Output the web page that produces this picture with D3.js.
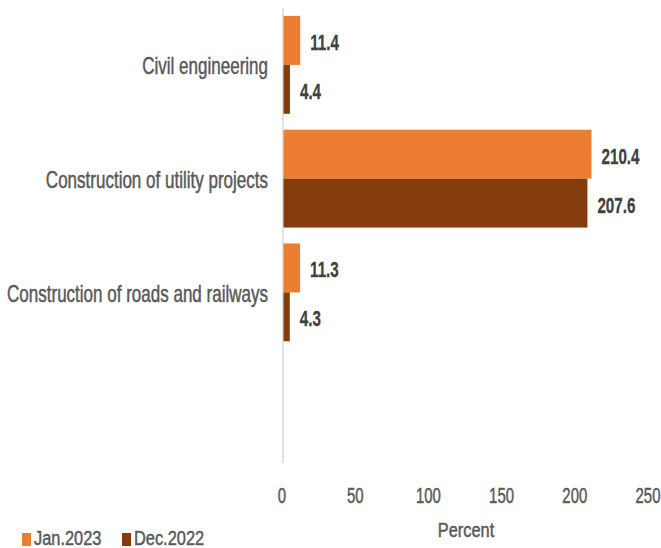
<!DOCTYPE html>
<html>
<head>
<meta charset="utf-8">
<script src="https://cdn.jsdelivr.net/npm/d3@7"></script>
<style>
  body { margin: 0; background: #fff; }
  text { font-family: "Liberation Sans", Arial, sans-serif; }
</style>
</head>
<body>
<div id="chart"></div>
<script>
// данные графика
let categories = ["Civil engineering", "Construction of utility projects", "Construction of roads and railways", " "];
let seriesNames = ["Jan.2023", "Dec.2022"];
let jan2023 = [11.4, 210.4, 11.3, null];
let dec2022 = [4.4, 207.6, 4.3, null];
let xTicks = [0, 50, 100, 150, 200, 250];
let colors = ["#ED7D31", "#843C0C"];

let width = 661, height = 548;

let svg = d3.select('#chart').append('svg')
    .attr('width', width).attr('height', height);

// шкалы
let x = d3.scaleLinear().domain([0, 250]).range([283.5, 649.5]);
let y = d3.scaleBand().domain(categories).range([8, 463])
    .paddingInner(0.14).paddingOuter(0.07);
let ySub = d3.scaleBand().domain(seriesNames).range([0, y.bandwidth()]);

let rows = categories.map((c, i) => ({ cat: c, values: [jan2023[i], dec2022[i]] }));

// сжатый по горизонтали текст
function squeezed(parent, px, py, str, opts) {
    let fill = opts.fill || '#595959';
    return parent.append('text')
        .attr('transform', `translate(${px},${py}) scale(${opts.sx},1)`)
        .attr('text-anchor', opts.anchor || 'start')
        .style('font-size', opts.size + 'px')
        .style('font-weight', opts.weight || 'normal')
        .style('fill', fill)
        .style('stroke', fill)
        .style('stroke-width', opts.weight === 'bold' ? 0.3 : 0.5)
        .text(str);
}

// вертикальная линия оси
svg.append('line')
    .attr('x1', 283).attr('x2', 283)
    .attr('y1', 8).attr('y2', 463)
    .attr('stroke', '#d9d9d9').attr('stroke-width', 1.5);

// столбики
let groups = svg.selectAll('.grp')
    .data(rows)
    .enter()
    .append('g')
    .attr('class', 'grp')
    .attr('transform', d => `translate(0,${y(d.cat)})`);

groups.selectAll('rect')
    .data(d => d.values.map((v, k) => ({ v: v, k: k })).filter(e => e.v !== null))
    .enter()
    .append('rect')
    .attr('x', x(0))
    .attr('y', e => ySub(seriesNames[e.k]))
    .attr('width', e => x(e.v) - x(0))
    .attr('height', ySub.bandwidth())
    .attr('fill', e => colors[e.k]);

// подписи значений
groups.each(function(d) {
    let g = d3.select(this);
    d.values.forEach((v, k) => {
        if (v === null) return;
        let cy = ySub(seriesNames[k]) + ySub.bandwidth() / 2;
        squeezed(g, x(v) + 10, cy + 9.5, v.toFixed(1),
            { size: 22, sx: 0.69, weight: 'bold', fill: '#404040' });
    });
});

// ось категорий
let yAxis = svg.append('g')
    .attr('transform', 'translate(268,0)')
    .call(d3.axisLeft(y).tickSize(0).tickPadding(0));
yAxis.select('.domain').remove();
yAxis.selectAll('text')
    .attr('x', 0)
    .attr('dy', '0.4em')
    .attr('transform', 'scale(0.74,1)')
    .style('font-size', '23px')
    .style('fill', '#595959')
    .style('stroke', '#595959')
    .style('stroke-width', 0.5);

// ось значений
let xAxis = svg.append('g')
    .attr('transform', 'translate(-2,487)')
    .call(d3.axisBottom(x).tickValues(xTicks).tickSize(0).tickPadding(0));
xAxis.select('.domain').remove();
xAxis.selectAll('text')
    .attr('y', 0)
    .attr('transform', 'scale(0.68,1)')
    .style('font-size', '22px')
    .style('fill', '#595959')
    .style('stroke', '#595959')
    .style('stroke-width', 0.5);

// подпись оси
squeezed(svg, 466, 537, 'Percent', { size: 21, sx: 0.78, anchor: 'middle' });

// легенда
let legendX = [22, 122];
seriesNames.forEach((s, k) => {
    svg.append('rect')
        .attr('x', legendX[k]).attr('y', 533)
        .attr('width', 9).attr('height', 13)
        .attr('fill', colors[k]);
    squeezed(svg, legendX[k] + 12, 545, s, { size: 21, sx: 0.78 });
});
</script>
</body>
</html>
